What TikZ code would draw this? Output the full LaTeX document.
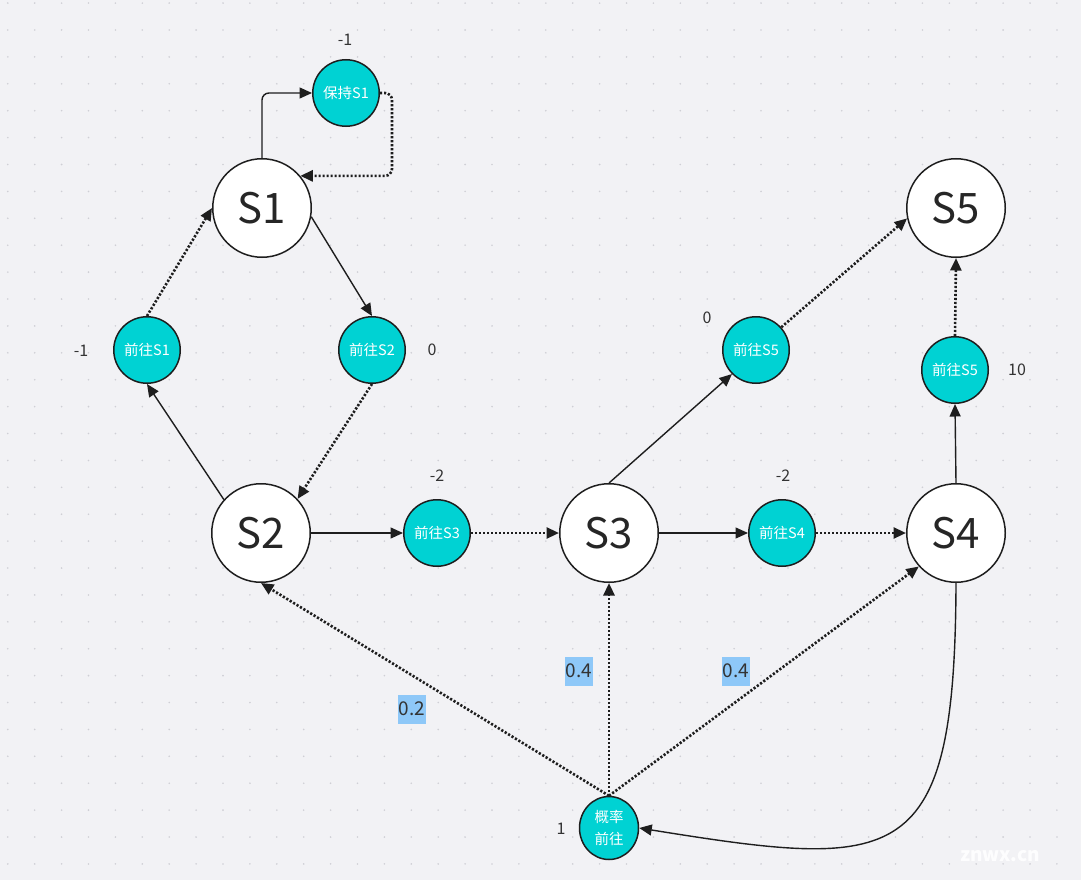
\documentclass[tikz,border=0pt]{standalone}
\usepackage{fontspec}
\setmainfont{Noto Sans CJK SC}
\usetikzlibrary{arrows.meta,shapes.geometric,calc}
\definecolor{bgc}{HTML}{F2F2F5}
\definecolor{gridc}{HTML}{CFCFD5}
\definecolor{teal1}{HTML}{00D2D3}
\definecolor{linec}{HTML}{1E1E1E}
\definecolor{hl}{HTML}{8EC8F8}
\definecolor{txt}{HTML}{333333}
\begin{document}
\begin{tikzpicture}[x=1pt,y=-1pt,
 state/.style={circle,draw=linec,fill=white,line width=1.5pt,minimum size=98.5pt,inner sep=0pt,font=\fontsize{42}{42}\selectfont,text=black!85},
 act/.style={circle,draw=linec,fill=teal1,line width=1.5pt,minimum size=66.5pt,inner sep=0pt,font=\fontsize{14.5}{14.5}\selectfont,text=white},
 rew/.style={font=\fontsize{16}{16}\selectfont,text=txt,inner sep=0pt},
 prob/.style={fill=hl,font=\fontsize{19}{19}\selectfont,text=txt,inner sep=1pt,minimum height=29pt,minimum width=28pt},
 sol/.style={draw=linec,line width=1.4pt,-{Triangle[length=12.5pt,width=11pt]}},
 dotl/.style={draw=linec,line width=2.6pt,dash pattern=on 2.2pt off 1.8pt,-{Triangle[length=12.5pt,width=11pt]}},
]
\useasboundingbox (0,0) rectangle (1081,880);
\fill[bgc] (0,0) rectangle (1081,880);
\foreach \i in {0,...,39}{
  \foreach \j in {0,...,32}{
    \fill[gridc] (7.8+26.9*\i,3.1+26.9*\j) circle (0.9pt);
  }
}
% watermark
\node[text=white,opacity=0.9,font=\fontsize{19}{19}\selectfont\bfseries] (wm) at (1000,856) {znwx.cn};

% states
\node[state] (S1) at (262,208) {S1};
\node[state] (S2) at (261,533) {S2};
\node[state] (S3) at (609,533) {S3};
\node[state] (S4) at (956,533) {S4};
\node[state] (S5) at (956,208) {S5};

% actions
\node[act] (K1) at (346,93) {保持S1};
\node[act] (A1) at (147,350) {前往S1};
\node[act] (A2) at (372,350) {前往S2};
\node[act] (A3) at (437,533) {前往S3};
\node[act] (A4) at (782,533) {前往S4};
\node[act] (A5) at (756,350) {前往S5};
\node[act] (B5) at (955,370) {前往S5};
\node[ellipse,draw=linec,fill=teal1,line width=1.5pt,minimum width=59pt,minimum height=63pt,inner sep=0pt,
      align=center,font=\fontsize{14.5}{22}\selectfont,text=white] (P) at (609,828) {概率\\前往};

% rewards
\node[rew] (r1) at (345,40) {-1};
\node[rew] (r2) at (81,351) {-1};
\node[rew] (r3) at (432,350) {0};
\node[rew] (r4) at (437,476) {-2};
\node[rew] (r5) at (707,318) {0};
\node[rew] (r6) at (783,476) {-2};
\node[rew] (r7) at (1017,370) {10};
\node[rew] (r8) at (561,829) {1};

% probabilities
\node[prob] (p1) at (412,709) {0.2};
\node[prob] (p2) at (579,671) {0.4};
\node[prob] (p3) at (736,671) {0.4};

% connectors
\draw[sol,rounded corners=7pt] (S1.north) |- (K1.west);
\draw[dotl,rounded corners=7pt] (K1.east) -- ++(12,0) |- (S1.40);
\draw[dotl] (A1.north) -- (S1.west);
\draw[sol] (S1.-10) -- (A2.north);
\draw[dotl] (A2.south) -- (S2.43);
\draw[sol] (S2.138) -- (A1.south);
\draw[sol] (S2.east) -- (A3.west);
\draw[dotl] (A3.east) -- (S3.west);
\draw[sol] (S3.east) -- (A4.west);
\draw[dotl] (A4.east) -- (S4.west);
\draw[sol] (S3.north) -- (A5.225);
\draw[dotl] (A5.42) -- (S5.192);
\draw[sol] (S4.north) -- (B5.south);
\draw[dotl] (B5.north) -- (S5.south);
\draw[dotl] (P.north) -- (S2.south);
\draw[dotl] (P.north) -- (S3.south);
\draw[dotl] (P.north) -- (S4.222);
\draw[sol] (S4.south) .. controls (955,870) and (900,870) .. (P.east);
\end{tikzpicture}
\end{document}
